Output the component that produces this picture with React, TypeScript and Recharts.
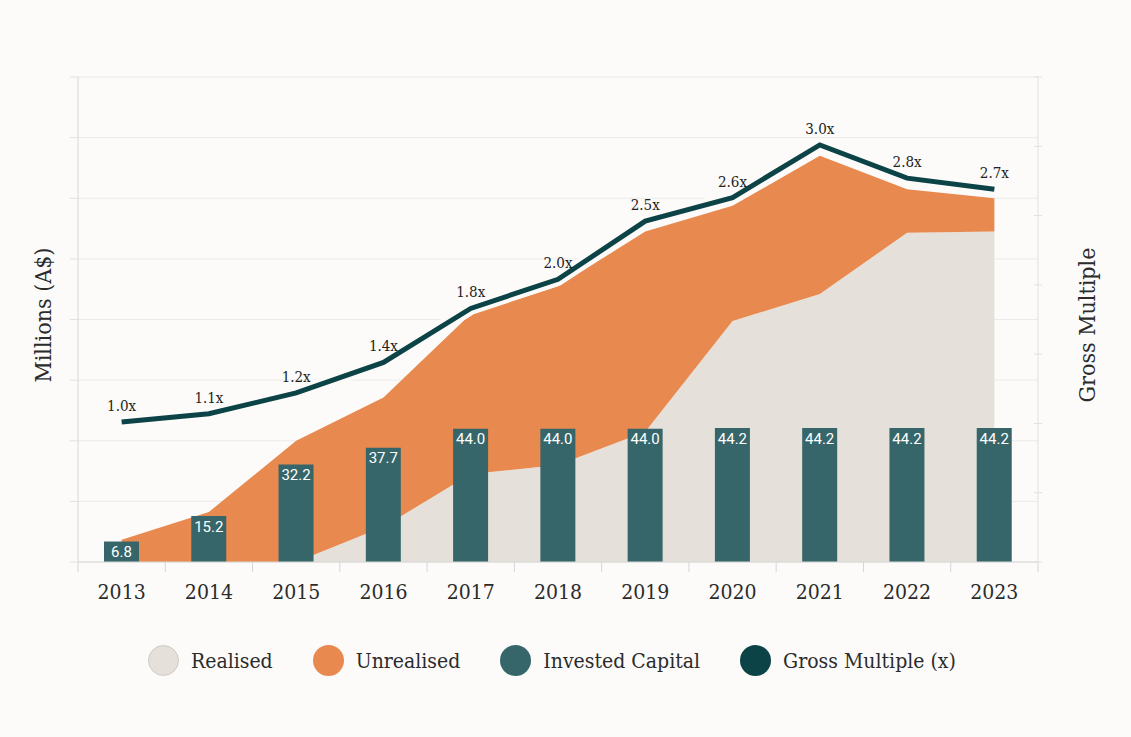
import React from "react"
import {
  ComposedChart,
  Area,
  Bar,
  Line,
  XAxis,
  YAxis,
  CartesianGrid,
  LabelList,
} from "recharts"

const years = ["2013", "2014", "2015", "2016", "2017", "2018", "2019", "2020", "2021", "2022", "2023"]
const realised = [0, 0, 0, 11.6, 29, 32, 43, 79.5, 88.4, 108.6, 109]
const unrealised = [7.3, 16.5, 40, 42.7, 52.8, 59, 66, 38, 45.6, 14.4, 11]
const investedCapital = [6.8, 15.2, 32.2, 37.7, 44.0, 44.0, 44.0, 44.2, 44.2, 44.2, 44.2]
const grossMultiple = [1.01, 1.07, 1.22, 1.44, 1.83, 2.04, 2.46, 2.63, 3.01, 2.77, 2.69]
const leftTicks = [0, 20, 40, 60, 80, 100, 120, 140, 160]
const rightTicks = [0, 0.5, 1, 1.5, 2, 2.5, 3, 3.5]

const data = years.map((year, i) => ({
  year,
  realised: realised[i],
  unrealised: unrealised[i],
  invested: investedCapital[i],
  multiple: grossMultiple[i],
}))

const FONT = "'DejaVu Serif Condensed', 'DejaVu Serif', serif"
const BG = "#FCFBF9"
const C_REALISED = "#E5E1DA"
const C_UNREALISED = "#E8894F"
const C_INVESTED = "#36666A"
const C_MULTIPLE = "#0C4346"

const W = 1131
const H = 737
const M = { top: 77, right: 73, bottom: 145, left: 58 }
const Y_W = 20
const PLOT_W = W - M.left - M.right - 2 * Y_W
const BAND = PLOT_W / years.length

function YearTick(props: any) {
  const { x, y, payload, index } = props
  const last = index === years.length - 1
  return (
    <g>
      <line x1={x - BAND / 2} x2={x - BAND / 2} y1={y - 8} y2={y + 2} stroke="#D6D6D6" />
      {last && <line x1={x + BAND / 2} x2={x + BAND / 2} y1={y - 8} y2={y + 2} stroke="#D6D6D6" />}
      <text x={x} y={y + 29} textAnchor="middle" fontSize={21} fill="#2B2B2B" fontFamily={FONT}>
        {payload.value}
      </text>
    </g>
  )
}

// short tick mark only, no label
function MarkTick(props: any) {
  const { x, y, orientation } = props
  const dir = orientation === "right" ? 1 : -1
  const x0 = orientation === "right" ? x - 12 : x + 8
  return <line x1={x0} x2={x0 + dir * 8} y1={y} y2={y} stroke="#E0E0E0" />
}

const legendItems = [
  { name: "Realised", color: C_REALISED, border: "#CFCAC2" },
  { name: "Unrealised", color: C_UNREALISED },
  { name: "Invested Capital", color: C_INVESTED },
  { name: "Gross Multiple (x)", color: C_MULTIPLE },
]

export default function App() {
  return (
    <div style={{ position: "absolute", left: 0, top: 0, width: W, height: H, background: BG, fontFamily: FONT }}>
      <ComposedChart width={W} height={H} data={data} margin={M}>
        <CartesianGrid vertical={false} stroke="#EAEAEA" yAxisId="left" />
        <XAxis
          dataKey="year"
          axisLine={{ stroke: "#D6D6D6" }}
          tickLine={false}
          tick={<YearTick />}
          height={30}
          interval={0}
        />
        <YAxis
          yAxisId="left"
          domain={[0, 160]}
          ticks={leftTicks}
          tick={<MarkTick />}
          tickLine={false}
          width={Y_W}
          axisLine={{ stroke: "#D6D6D6" }}
        />
        <YAxis
          yAxisId="right"
          orientation="right"
          domain={[0, 3.5]}
          ticks={rightTicks}
          tick={<MarkTick />}
          tickLine={false}
          width={Y_W}
          axisLine={{ stroke: "#E2E2E2" }}
        />
        <Area
          yAxisId="left"
          type="linear"
          dataKey="realised"
          stackId="a"
          stroke="none"
          fill={C_REALISED}
          fillOpacity={1}
          isAnimationActive={false}
        />
        <Area
          yAxisId="left"
          type="linear"
          dataKey="unrealised"
          stackId="a"
          stroke="none"
          fill={C_UNREALISED}
          fillOpacity={1}
          isAnimationActive={false}
        />
        <Bar yAxisId="left" dataKey="invested" fill={C_INVESTED} barSize={35} isAnimationActive={false}>
          <LabelList
            dataKey="invested"
            position="insideTop"
            offset={5}
            fill="#FFFFFF"
            fontSize={15}
            fontFamily="Roboto, sans-serif"
            formatter={(v: any) => Number(v).toFixed(1)}
          />
        </Bar>
        {/* white halo under the multiple line */}
        <Line
          yAxisId="right"
          type="linear"
          dataKey="multiple"
          stroke={BG}
          strokeWidth={13}
          dot={false}
          activeDot={false}
          legendType="none"
          isAnimationActive={false}
        />
        <Line
          yAxisId="right"
          type="linear"
          dataKey="multiple"
          stroke={C_MULTIPLE}
          strokeWidth={5}
          dot={false}
          activeDot={false}
          isAnimationActive={false}
        >
          <LabelList
            dataKey="multiple"
            position="top"
            offset={11}
            fill="#222"
            fontSize={15}
            fontFamily={FONT}
            formatter={(v: any) => `${Number(v).toFixed(1)}x`}
          />
        </Line>
      </ComposedChart>

      <div
        style={{
          position: "absolute",
          left: 43,
          top: 315,
          transform: "translate(-50%, -50%) rotate(-90deg)",
          fontSize: 23,
          color: "#2B2B2B",
          whiteSpace: "nowrap",
        }}
      >
        Millions (A$)
      </div>
      <div
        style={{
          position: "absolute",
          left: 1087,
          top: 325,
          transform: "translate(-50%, -50%) rotate(-90deg)",
          fontSize: 23,
          color: "#2B2B2B",
          whiteSpace: "nowrap",
        }}
      >
        Gross Multiple
      </div>

      <div
        style={{
          position: "absolute",
          left: 148,
          top: 645,
          display: "flex",
          alignItems: "center",
          gap: 40,
          fontSize: 21,
          color: "#2B2B2B",
        }}
      >
        {legendItems.map((it) => (
          <div key={it.name} style={{ display: "flex", alignItems: "center", gap: 12 }}>
            <span
              style={{
                width: 31,
                height: 31,
                borderRadius: "50%",
                background: it.color,
                boxSizing: "border-box",
                border: it.border ? `1px solid ${it.border}` : "none",
                display: "inline-block",
              }}
            />
            <span style={{ whiteSpace: "nowrap" }}>{it.name}</span>
          </div>
        ))}
      </div>
    </div>
  )
}
